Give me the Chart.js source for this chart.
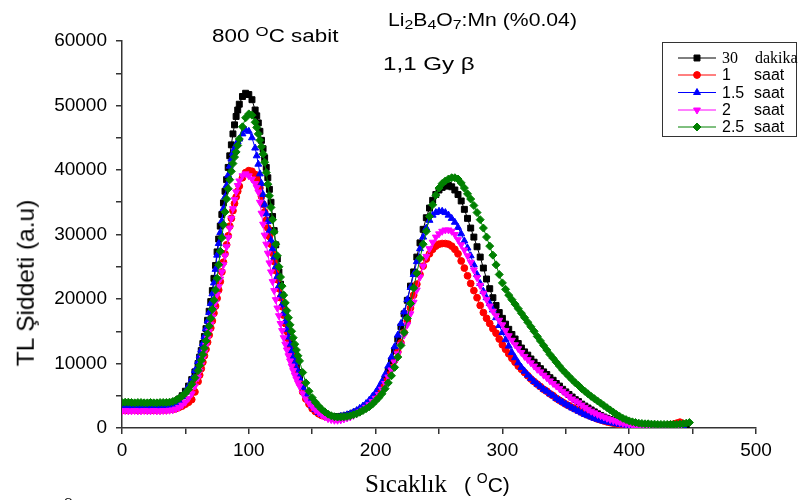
<!DOCTYPE html>
<html>
<head>
<meta charset="utf-8">
<script src="https://cdn.jsdelivr.net/npm/chart.js@4.4.1/dist/chart.umd.min.js"></script>
<style>
  body { margin: 0; background: #fff; }
  #wrap { position: relative; width: 800px; height: 500px; overflow: hidden; }
  #wrap canvas { position: absolute; left: 0; top: 0; }
  .lbl { position: absolute; white-space: nowrap; color: #000; line-height: 1; transform-origin: 0 0; font-family: "Liberation Sans", Arial, sans-serif; }
  .sub { font-size: 0.75em; position: relative; top: 0.25em; }
  .sup { font-size: 0.75em; position: relative; top: -0.45em; }
</style>
</head>
<body>
<div id="wrap">
  <canvas id="tl" width="800" height="500"></canvas>
  <div class="lbl" style="left:388px;top:12px;font-size:17.5px;transform:scaleX(1.21)">Li<span class="sub">2</span>B<span class="sub">4</span>O<span class="sub">7</span>:Mn (%0.04)</div>
  <div class="lbl" style="left:212px;top:28px;font-size:17.5px;transform:scaleX(1.28)">800 <span class="sup">O</span>C sabit</div>
  <div class="lbl" style="left:383px;top:56px;font-size:17.5px;transform:scaleX(1.38)">1,1 Gy &beta;</div>
  <div class="lbl" style="left:26px;top:283px;font-size:24.5px;transform-origin:center;transform:translate(-50%,-50%) rotate(-90deg)">TL Şiddeti (a.u)</div>
  <div class="lbl" style="left:365px;top:471px;font-family:'Liberation Serif',serif;font-size:25px">Sıcaklık<span style="font-family:'Liberation Sans',sans-serif;font-size:21px;margin-left:17px">( <span style="font-size:14px;position:relative;top:-9px">O</span>C)</span></div>
  <div class="lbl" style="left:64px;top:497px;font-size:11px">O</div>
</div>
<script>
// sıcaklık (°C) - tepe yamaçlarında daha sık okuma
const temps = [
  0, 2.5, 5, 7.5, 10, 12.5, 15, 17.5, 20, 22.5, 25, 27.5,
  30, 32.5, 35, 37.5, 40, 42.5, 45, 47.5, 50, 52.5, 55, 57.5,
  60, 61.25, 62.5, 63.75, 65, 66.25, 67.5, 68.75, 70, 71.25, 72.5, 73.75, 75,
  76.25, 77.5, 78.75, 80, 81.25, 82.5, 83.75, 85, 86.25, 87.5, 88.75, 90, 91.25, 92.5,
  95, 97.5, 100, 102.5,
  105, 106.25, 107.5, 108.75, 110, 111.25, 112.5, 113.75, 115, 116.25, 117.5, 118.75, 120, 121.25,
  122.5, 123.75, 125, 126.25, 127.5, 128.75, 130, 131.25, 132.5, 133.75, 135, 136.25, 137.5, 138.75, 140,
  142.5, 145, 147.5, 150, 152.5, 155, 157.5, 160, 162.5, 165, 167.5, 170,
  172.5, 175, 177.5, 180, 182.5, 185, 187.5, 190, 192.5, 195, 197.5, 200,
  202.5, 205, 207.5, 210, 212.5, 215, 217.5, 220, 222.5, 225, 227.5, 230, 232.5, 235, 237.5, 240, 242.5, 245, 247.5, 250,
  252.5, 255, 257.5, 260, 262.5, 265, 267.5, 270, 272.5, 275, 277.5, 280, 282.5, 285, 287.5, 290, 292.5, 295, 297.5, 300,
  302.5, 305, 307.5, 310, 312.5, 315, 317.5, 320, 322.5, 325, 327.5, 330, 332.5, 335, 337.5, 340, 342.5, 345, 347.5, 350,
  352.5, 355, 357.5, 360, 362.5, 365, 367.5, 370, 372.5, 375, 377.5, 380, 382.5, 385, 387.5, 390, 392.5, 395, 397.5, 400,
  402.5, 405, 407.5, 410, 412.5, 415, 417.5, 420, 422.5, 425, 427.5, 430, 432.5, 435, 437.5, 440, 442.5, 445, 447.5, 450
];

const dakika30 = [
  3700, 3750, 3650, 3700, 3700, 3650, 3650, 3700, 3650, 3600, 3600, 3650,
  3650, 3700, 3700, 3800, 3900, 4150, 4500, 5000, 5700, 6500, 7500, 8700,
  10000, 11000, 12000, 13100, 14200, 15400, 16700, 18100, 19600, 21300, 23200, 25200, 27300,
  29300, 31300, 33100, 34900, 36700, 38500, 40400, 42200, 43900, 45600, 47000, 48300, 49300, 50200,
  51400, 51900, 51700, 50900,
  49300, 48400, 47300, 46000, 44600, 43300, 41900, 40400, 38800, 37000, 35000, 32800, 30600, 28400,
  26200, 24200, 22300, 20600, 19000, 17600, 16200, 14900, 13600, 12400, 11300, 10300, 9400, 8600, 7800,
  6500, 5300, 4400, 3700, 3150, 2700, 2350, 2100, 1950, 1800, 1750, 1750,
  1800, 1850, 1950, 2100, 2300, 2500, 2750, 3000, 3400, 3800, 4300, 4800,
  5600, 6500, 7600, 8900, 10400, 12000, 13800, 15700, 17700, 19800, 22000, 24200, 26500, 28700, 30800, 32600, 34100, 35300, 36200, 36900,
  37300, 37500, 37600, 37400, 36900, 36200, 35200, 33900, 32500, 31000, 29600, 28100, 26500, 24800, 23100, 21600, 20200, 19000, 17900, 17000,
  16100, 15300, 14500, 13800, 13100, 12400, 11800, 11300, 10700, 10200, 9700, 9200, 8700, 8300, 7800, 7400, 6900, 6500, 6000, 5600,
  5200, 4800, 4400, 4100, 3700, 3400, 3100, 2800, 2500, 2200, 1950, 1700, 1500, 1300, 1150, 1000, 850, 700, 600, 500,
  450, 400, 380, 350, 330, 300, 300, 300, 300, 300, 300, 300, 300, 300, 320, 350, 330, 300, null, null
];

const saat1 = [
  2800, 2750, 2750, 2800, 2800, 2750, 2800, 2800, 2750, 2750, 2750, 2800,
  2800, 2800, 2800, 2850, 2900, 3000, 3200, 3400, 3700, 4000, 4400, 5600,
  7200, 8200, 9200, 10200, 11200, 12200, 13300, 14400, 15500, 16600, 17800, 18900, 20100,
  21400, 22700, 24200, 25700, 27000, 28400, 29800, 31300, 32500, 33700, 34800, 35800, 36700, 37500,
  38800, 39600, 39900, 39800,
  39300, 38800, 38200, 37200, 35900, 34700, 33500, 32200, 31000, 29700, 28500, 27100, 25800, 24400,
  23000, 21600, 20200, 18800, 17500, 16200, 15000, 13800, 12600, 11500, 10500, 9500, 8600, 7800, 7000,
  5600, 4500, 3700, 3000, 2550, 2200, 1950, 1800, 1700, 1600, 1550, 1600,
  1650, 1700, 1850, 2000, 2200, 2400, 2700, 3000, 3400, 3800, 4300, 4900,
  5500, 6300, 7200, 8200, 9300, 10500, 11800, 13200, 14800, 16600, 18600, 20600, 22300, 23800, 25100, 26200, 27000, 27700, 28200, 28500,
  28600, 28600, 28500, 28200, 27700, 27000, 25900, 24800, 23600, 22400, 21300, 20200, 19000, 17900, 17000, 16200, 15400, 14700, 13800, 12900,
  12200, 11500, 10800, 10200, 9600, 9100, 8600, 8100, 7600, 7200, 6800, 6400, 6000, 5700, 5300, 5000, 4600, 4300, 4000, 3700,
  3450, 3200, 2950, 2700, 2450, 2200, 2000, 1800, 1600, 1400, 1250, 1100, 950, 850, 750, 650, 550, 500, 400, 350,
  300, 250, 220, 200, 200, 200, 220, 250, 280, 300, 350, 400, 500, 600, 750, 900, 700, null, null, null
];

const saat15 = [
  3100, 3150, 3100, 3100, 3050, 3100, 3100, 3050, 3050, 3050, 3050, 3100,
  3100, 3100, 3150, 3250, 3400, 3750, 4200, 4850, 5600, 6500, 7600, 8900,
  10300, 11200, 12100, 13100, 14200, 15400, 16600, 17900, 19300, 20800, 22500, 24600, 26800,
  28600, 30300, 32100, 34000, 35800, 37600, 39200, 40600, 41700, 42600, 43300, 43900, 44400, 44800,
  45600, 46200, 46000, 45000,
  43400, 42200, 40900, 39400, 37900, 36200, 34600, 33200, 32000, 30600, 29100, 27800, 26500, 25000,
  23500, 22000, 20500, 19100, 17800, 16500, 15300, 14100, 13000, 12000, 11000, 10100, 9200, 8400, 7700,
  6300, 5200, 4200, 3400, 2850, 2400, 2100, 1900, 1800, 1700, 1650, 1700,
  1800, 1900, 2050, 2200, 2450, 2700, 3050, 3400, 3800, 4300, 4900, 5500,
  6300, 7200, 8300, 9600, 11000, 12600, 14400, 16200, 18000, 19900, 21800, 23800, 25800, 27800, 29600, 31000, 32200, 33000, 33400, 33600,
  33600, 33400, 33000, 32500, 31900, 31100, 30100, 29000, 27900, 26700, 25300, 23800, 22400, 21200, 20200, 19300, 18300, 17100, 15900, 14800,
  13700, 12700, 11700, 10900, 10100, 9400, 8800, 8200, 7700, 7200, 6800, 6400, 6000, 5700, 5300, 5000, 4600, 4300, 4000, 3700,
  3400, 3100, 2850, 2600, 2350, 2100, 1900, 1700, 1500, 1350, 1200, 1050, 950, 850, 750, 650, 550, 500, 450, 400,
  350, 300, 280, 250, 250, 250, 250, 250, 250, 250, 250, 280, 300, 300, 300, 300, 300, null, null, null
];

const saat2 = [
  2650, 2700, 2650, 2650, 2700, 2650, 2650, 2700, 2650, 2650, 2700, 2650,
  2650, 2700, 2700, 2750, 2800, 2950, 3200, 3550, 4000, 4600, 5300, 6500,
  7800, 8800, 9800, 10800, 11800, 12800, 13900, 15000, 16100, 17200, 18400, 19500, 20700,
  21900, 23100, 24200, 25300, 26700, 28100, 29500, 31000, 32500, 34000, 35400, 36600, 37600, 38300,
  39100, 39400, 39100, 38600,
  37900, 37300, 36600, 35000, 33300, 31600, 29900, 28500, 27100, 25600, 24200, 22700, 21300, 19900,
  18600, 17400, 16200, 15100, 14000, 13000, 12100, 11200, 10400, 9600, 8900, 8200, 7600, 7000, 6500,
  5400, 4500, 3850, 3300, 2800, 2400, 2000, 1700, 1450, 1300, 1200, 1200,
  1250, 1400, 1550, 1700, 1950, 2200, 2500, 2800, 3200, 3600, 4100, 4600,
  5200, 6000, 6900, 7900, 9000, 10200, 11500, 12900, 14400, 16000, 17700, 19500, 21400, 23400, 25100, 26600, 27800, 28800, 29600, 30100,
  30500, 30700, 30700, 30500, 30000, 29200, 28400, 27600, 26700, 25700, 24500, 23300, 22100, 20900, 19900, 18900, 18100, 17400, 16700, 16000,
  15100, 14300, 13600, 12900, 12300, 11700, 11100, 10600, 10100, 9600, 9100, 8700, 8200, 7800, 7300, 6900, 6500, 6100, 5700, 5300,
  4900, 4500, 4200, 3900, 3550, 3200, 2900, 2600, 2350, 2100, 1900, 1700, 1500, 1300, 1150, 1000, 870, 750, 650, 550,
  470, 400, 350, 300, 300, 300, 320, 350, 380, 400, 400, 400, 380, 350, 350, 350, null, null, null, null
];

const saat25 = [
  3950, 4000, 4000, 3950, 3900, 3950, 3950, 3900, 3900, 3950, 3900, 3900,
  3950, 3950, 3950, 4000, 4100, 4300, 4600, 4950, 5400, 6000, 6800, 7800,
  8900, 9700, 10500, 11400, 12400, 13500, 14600, 15800, 17000, 18400, 19800, 21400, 23200,
  25300, 27400, 29500, 31500, 33500, 35500, 37100, 38500, 39800, 41000, 42000, 42800, 43800, 44800,
  46700, 48100, 48700, 48500,
  47400, 46600, 45600, 44600, 43600, 42500, 41200, 39600, 37800, 36000, 34200, 32300, 30400, 28500,
  26700, 25000, 23400, 22000, 20600, 19400, 18200, 17100, 16000, 15000, 14000, 13000, 12100, 11200, 10400,
  8600, 7000, 5700, 4700, 4000, 3400, 2900, 2500, 2150, 1900, 1750, 1700,
  1700, 1750, 1800, 1900, 2050, 2200, 2450, 2700, 3000, 3300, 3700, 4200,
  4700, 5300, 6100, 7000, 8100, 9400, 11000, 12800, 14800, 17000, 19300, 21700, 24000, 26300, 28500, 30500, 32800, 34600, 36100, 37200,
  37900, 38300, 38600, 38800, 38800, 38600, 38000, 37200, 36300, 35500, 34500, 33400, 32300, 31000, 29600, 28200, 26800, 25300, 23800, 22500,
  21500, 20600, 19900, 19200, 18500, 17800, 17100, 16400, 15700, 15000, 14200, 13500, 12800, 12100, 11400, 10800, 10200, 9600, 9000, 8500,
  8000, 7500, 7000, 6600, 6100, 5700, 5300, 4900, 4550, 4200, 3850, 3500, 3150, 2800, 2450, 2100, 1800, 1500, 1300, 1100,
  950, 850, 750, 700, 650, 650, 600, 600, 550, 550, 550, 550, 550, 550, 550, 600, 650, 750, 850, null
];

const seriesNames = ["30 dakika", "1 saat", "1.5 saat", "2 saat", "2.5 saat"];
const legendNum = ["30", "1", "1.5", "2", "2.5"];
const legendUnit = ["dakika", "saat", "saat", "saat", "saat"];
const xTicks = [0, 100, 200, 300, 400, 500];
const yTicks = [0, 10000, 20000, 30000, 40000, 50000, 60000];

function toPoints(values) {
  if (values.length !== temps.length) console.error("length mismatch", values.length, temps.length);
  return temps
    .map((t, i) => ({ x: t, y: values[i] }))
    .filter((p) => p.y !== null && p.y !== undefined);
}

function makeSet(label, values, color, style, radius, rot, order) {
  return {
    label,
    data: toPoints(values),
    borderColor: color,
    backgroundColor: color,
    pointBackgroundColor: color,
    pointBorderColor: color,
    borderWidth: 1,
    pointBorderWidth: 1,
    pointStyle: style,
    pointRadius: radius,
    pointRotation: rot,
    tension: 0,
    order,
  };
}

// lejant kutusu
const legendRows = [58, 75, 92.5, 110, 127];
const legendBox = {
  id: "legendBox",
  afterDraw(chart) {
    const ctx = chart.ctx;
    ctx.save();
    ctx.strokeStyle = "#333";
    ctx.lineWidth = 1;
    ctx.strokeRect(662.5, 42.5, 134, 94);
    chart.data.datasets.forEach((ds, i) => {
      const y = legendRows[i];
      ctx.strokeStyle = ds.borderColor;
      ctx.lineWidth = 1;
      ctx.beginPath();
      ctx.moveTo(678, y);
      ctx.lineTo(716, y);
      ctx.stroke();
      ctx.fillStyle = ds.pointBackgroundColor;
      Chart.helpers.drawPoint(
        ctx,
        { pointStyle: ds.pointStyle, radius: ds.pointRadius, rotation: ds.pointRotation, borderWidth: 1 },
        697,
        y
      );
      ctx.fillStyle = "#000";
      ctx.textBaseline = "middle";
      ctx.font = i === 0 ? '16px "Liberation Serif"' : '16px "Liberation Sans"';
      ctx.fillText(legendNum[i], 722, y + 1);
      ctx.fillText(legendUnit[i], i === 0 ? 755 : 754, y + 1);
    });
    ctx.restore();
  },
};

const axisColor = "#333";
const tickFont = { family: "Liberation Sans", size: 19 };

new Chart(document.getElementById("tl"), {
  type: "line",
  data: {
    datasets: [
      makeSet(seriesNames[0], dakika30, "#000000", "rect", 4.2, 0, 5),
      makeSet(seriesNames[1], saat1, "#ff0000", "circle", 3.4, 0, 4),
      makeSet(seriesNames[2], saat15, "#0000ff", "triangle", 4, 0, 3),
      makeSet(seriesNames[3], saat2, "#ff00ff", "triangle", 4, 180, 2),
      makeSet(seriesNames[4], saat25, "#008000", "rectRot", 4, 0, 1),
    ],
  },
  options: {
    responsive: false,
    animation: false,
    layout: { padding: { top: 41, right: 44, left: 0, bottom: 0 } },
    plugins: { legend: { display: false }, tooltip: { enabled: false } },
    scales: {
      x: {
        type: "linear",
        min: 0,
        max: 500,
        afterFit: (s) => { s.height = 72; },
        ticks: {
          stepSize: 50,
          color: "#000",
          font: tickFont,
          padding: 5,
          maxRotation: 0,
          callback: (v) => (xTicks.includes(v) ? v : ""),
        },
        grid: { drawOnChartArea: false, color: axisColor, lineWidth: 1.5, tickLength: 6 },
        border: { color: axisColor, width: 1.5 },
      },
      y: {
        min: 0,
        max: 60000,
        afterFit: (s) => { s.width = 122; },
        ticks: {
          stepSize: 5000,
          color: "#000",
          font: tickFont,
          padding: 9,
          callback: (v) => (yTicks.includes(v) ? v : ""),
        },
        grid: { drawOnChartArea: false, color: axisColor, lineWidth: 1.5, tickLength: 6 },
        border: { color: axisColor, width: 1.5 },
      },
    },
  },
  plugins: [legendBox],
});
</script>
</body>
</html>
